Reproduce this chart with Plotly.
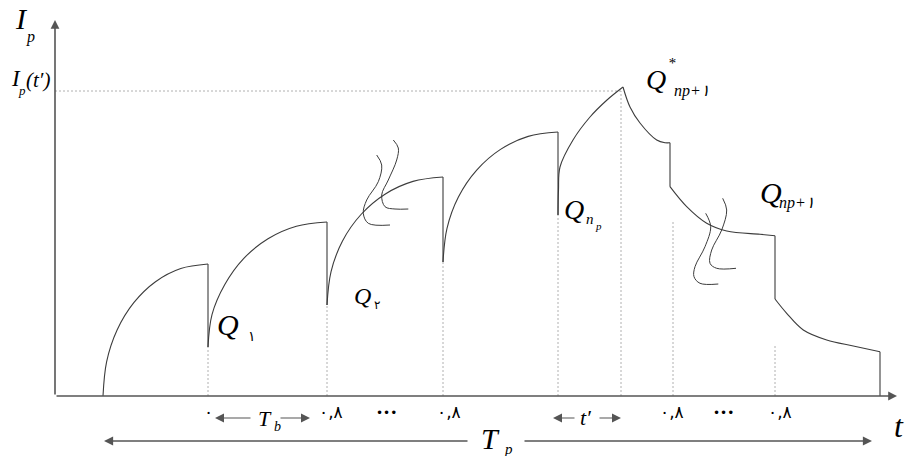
import plotly.graph_objects as go

# Schematic of the pulse current I_p(t): charging arcs, peak, then stepwise decay
# coordinates: t along the time axis, i up the current axis (origin at axis corner)

rise_t = [
    [48, 51.6, 62.1, 78.8, 100.5, 125.8, 153],
    [153, 157, 169.8, 188.6, 213, 241.4, 272],
    [272, 276, 287.5, 306, 330, 358, 388],
    [388, 392, 403.4, 421.7, 445.5, 473.2, 503],
    [503, 503.5, 505, 518, 535, 552, 568],
]
rise_i = [
    [0, 34.2, 66, 93.3, 114.3, 127.5, 132],
    [49, 81.4, 111.5, 137.4, 157.2, 169.7, 174],
    [91, 124.2, 155, 181.5, 201.8, 214.6, 219],
    [134, 167.7, 199, 225.9, 246.6, 259.6, 264],
    [181, 206, 229, 256, 279, 296, 309],
]

decay_t = [
    [568, 575, 585, 601.7, 610, 615],
    [615, 631.7, 651.7, 671.7, 705, 720],
    [720, 731.7, 748.3, 771.7, 798.3, 825],
]
decay_i = [
    [309, 289, 273, 256, 253.3, 253.3],
    [209.3, 189.3, 172.7, 165, 161.7, 160.3],
    [97, 82.7, 66, 56, 50, 44.3],
]

# dotted guide lines
guide_t = [153, 272, 388, 503, 566, 618, 720]
guide_top = [49, 91, 134, 181, 305, 176, 50]
peak_level = 305
peak_t = 566

# break marks (two wavy strokes each)
break_t = [
    [321.7, 326.7, 323.3, 311.7, 308.3, 313.3, 335],
    [338.3, 343.3, 341.7, 333.3, 326.7, 330, 340, 353.3],
    [650.7, 655.7, 650, 640, 639, 645, 663.3],
    [667.7, 671.7, 666.7, 656.7, 655, 661.7, 681],
]
break_i = [
    [241, 231, 214.3, 196, 182.7, 172.7, 171],
    [256, 248, 236, 216, 201, 189.3, 187, 187],
    [182.7, 169.3, 149.3, 129.3, 119.3, 112.7, 112],
    [197.7, 186, 166, 146, 132.7, 127.7, 127.7],
]

tick_text = ["٠", "٠,٨", "•••", "٠,٨", "٠,٨", "•••", "٠,٨"]
tick_t = [153, 276, 331, 394, 617, 668, 725]

CURVE = '#3c3c3c'
AXIS = '#555555'
GUIDE = '#b0b0b0'
SERIF = 'Liberation Serif, DejaVu Serif, serif'
ARABIC = 'DejaVu Sans, Noto Sans, sans-serif'

fig = go.Figure()

# dotted guides
gx, gy = [], []
for t, top in zip(guide_t, guide_top):
    gx += [t, t, None]
    gy += [0, top, None]
gx += [0, peak_t, None]
gy += [peak_level, peak_level, None]
fig.add_trace(go.Scatter(x=gx, y=gy, mode='lines',
                         line=dict(color=GUIDE, width=1, dash='2px,2px'),
                         hoverinfo='skip'))

# curved pieces
pieces = list(zip(rise_t, rise_i)) + list(zip(decay_t, decay_i))
for xs, ys in pieces:
    fig.add_trace(go.Scatter(x=xs, y=ys, mode='lines',
                             line=dict(color=CURVE, width=1.1, shape='spline'),
                             hoverinfo='skip'))

# vertical jumps between the pieces, plus the final drop to the axis
jx, jy = [], []
for (x0, y0), (x1, y1) in zip(pieces[:-1], pieces[1:]):
    if y0[-1] != y1[0]:
        jx += [x0[-1], x1[0], None]
        jy += [y0[-1], y1[0], None]
jx += [decay_t[-1][-1], decay_t[-1][-1]]
jy += [decay_i[-1][-1], 0]
fig.add_trace(go.Scatter(x=jx, y=jy, mode='lines',
                         line=dict(color=CURVE, width=1.1), hoverinfo='skip'))

# break marks
for xs, ys in zip(break_t, break_i):
    fig.add_trace(go.Scatter(x=xs, y=ys, mode='lines',
                             line=dict(color=CURVE, width=1, shape='spline'),
                             hoverinfo='skip'))


def arrow(t0, i0, t1, i1, width=1.5, size=1.0):
    fig.add_annotation(x=t1, y=i1, ax=t0, ay=i0, xref='x', yref='y',
                       axref='x', ayref='y', text='', showarrow=True,
                       arrowhead=2, arrowsize=size, arrowwidth=width,
                       arrowcolor=AXIS)


def label(t, i, text, size, family=SERIF, italic=True, anchor='center'):
    fig.add_annotation(x=t, y=i, text=f'<i>{text}</i>' if italic else text,
                       showarrow=False, xanchor=anchor, yanchor='middle',
                       font=dict(size=size, family=family, color='black'))


# axes
arrow(0, 0, 842, 0, 1.6, 1.1)
arrow(0, 0, 0, 376, 1.6, 1.1)

# axis titles
label(-34, 378, 'I', 30)
label(-25, 359, 'p', 16)
label(-39, 318, 'I', 23)
label(-33, 306, 'p', 13)
label(-17, 316, '(t′)', 21)
label(851, -30, 't', 32, anchor='right')

# curve labels
label(173, 72, 'Q', 30)
label(197, 60, '١', 14, ARABIC, False)
label(307, 100, 'Q', 24)
label(322, 91, '٢', 12, ARABIC, False)
label(519, 187, 'Q', 28)
label(535, 177, 'n', 15)
label(543, 170, 'p', 11)
label(601, 317, 'Q', 28)
label(617, 333, '*', 15)
label(637, 305, 'np+١', 16)
label(716, 204, 'Q', 30)
label(742, 193, 'np+١', 16)

# time marks under the axis
for t, s in zip(tick_t, tick_text):
    if s == '•••':
        label(t, -17, s, 12, ARABIC, False)
    else:
        label(t, -16, s, 17, ARABIC, False)

# T_b span
arrow(197, -22, 160, -22, 1.2, 1.5)
arrow(224, -22, 255, -22, 1.2, 1.5)
label(210, -22, 'T', 22)
label(222, -30, 'b', 14)

# t' span
arrow(521, -22, 498, -22, 1.2, 1.5)
arrow(543, -22, 566, -22, 1.2, 1.5)
label(531, -21, 't′', 22)

# T_p span
arrow(414, -45, 49, -45, 1.4, 1.3)
arrow(468, -45, 817, -45, 1.4, 1.3)
label(435, -42, 'T', 30)
label(453, -53, 'p', 15)

# the page puts the figure 8px in from the top-left corner
fig.update_layout(
    width=907, height=448,
    margin=dict(l=0, r=0, t=0, b=0),
    showlegend=False,
    plot_bgcolor='white', paper_bgcolor='white',
    xaxis=dict(range=[-47, 860], visible=False, fixedrange=True),
    yaxis=dict(range=[-60, 388], visible=False, fixedrange=True),
)

fig.write_html("out.html")
